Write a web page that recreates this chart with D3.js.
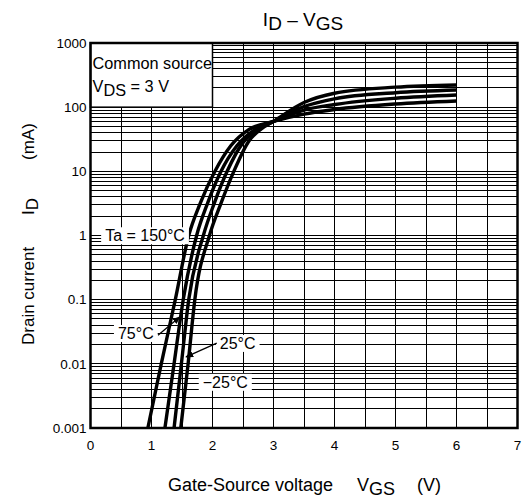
<!DOCTYPE html>
<html>
<head>
<meta charset="utf-8">
<script src="https://cdn.jsdelivr.net/npm/d3@7"></script>
<style>
  body { margin: 0; background: #fff; }
  svg { font-family: "Liberation Sans", Arial, sans-serif; }
</style>
</head>
<body>
<div id="chart"></div>
<script>
// I_D - V_GS curves, one array pair per temperature
const temps = ['150', '75', '25', '-25'];
const vgs150 = [0.94, 1.16, 1.39, 1.61, 1.8, 2.04, 2.3, 2.6, 3.0, 3.5, 4, 5, 6];
const id150  = [0.001, 0.01, 0.1, 1, 3.2, 10, 25, 45, 60, 78, 92, 112, 125];
const vgs75  = [1.22, 1.37, 1.52, 1.74, 1.92, 2.14, 2.4, 2.7, 3.0, 3.5, 4, 5, 6];
const id75   = [0.001, 0.01, 0.1, 1, 3.2, 10, 25, 45, 60, 90, 110, 138, 155];
const vgs25  = [1.37, 1.49, 1.61, 1.85, 2.03, 2.24, 2.5, 2.75, 3.0, 3.5, 4, 5, 6];
const id25   = [0.001, 0.01, 0.1, 1, 3.2, 10, 28, 45, 60, 102, 135, 168, 185];
const vgsM25 = [1.48, 1.6, 1.71, 1.95, 2.14, 2.35, 2.6, 2.8, 3.0, 3.5, 4, 5, 6];
const idM25  = [0.001, 0.01, 0.1, 1, 3.2, 10, 30, 46, 60, 118, 165, 205, 222];

const xTicks = [0, 1, 2, 3, 4, 5, 6, 7];
const yTicks = [0.001, 0.01, 0.1, 1, 10, 100, 1000];
const yTickLabels = ['0.001', '0.01', '0.1', '1', '10', '100', '1000'];

const series = [
  { t: temps[0], v: vgs150, i: id150 },
  { t: temps[1], v: vgs75, i: id75 },
  { t: temps[2], v: vgs25, i: id25 },
  { t: temps[3], v: vgsM25, i: idM25 }
];

const width = 524, height = 501;
const margin = { top: 43, right: 6.5, bottom: 73, left: 90.5 };

const svg = d3.select('#chart').append('svg')
  .attr('width', width)
  .attr('height', height);

const x = d3.scaleLinear().domain([0, 7]).range([margin.left, width - margin.right]);
const y = d3.scaleLog().domain([0.001, 1000]).range([height - margin.bottom, margin.top]);

// grid
const grid = svg.append('g').attr('stroke', '#000').attr('stroke-width', 1).attr('shape-rendering', 'crispEdges');
d3.range(0.5, 7, 0.5).forEach(v => {
  grid.append('line').attr('x1', x(v)).attr('x2', x(v)).attr('y1', y(0.001)).attr('y2', y(1000));
});
yTicks.slice(0, -1).forEach(d => {
  d3.range(1, 10).forEach(k => {
    const val = d * k;
    grid.append('line').attr('x1', x(0)).attr('x2', x(7)).attr('y1', y(val)).attr('y2', y(val));
  });
});

// condition box
svg.append('rect')
  .attr('x', x(0)).attr('y', y(1000))
  .attr('width', x(2) - x(0)).attr('height', y(100) - y(1000))
  .attr('fill', '#fff').attr('stroke', '#000').attr('stroke-width', 1.5);

svg.append('text').attr('x', x(0) + 2).attr('y', 69)
  .attr('font-size', 16.3).text('Common source');
const vds = svg.append('text').attr('x', x(0) + 2).attr('y', 92).attr('font-size', 16.3);
vds.append('tspan').text('V');
vds.append('tspan').attr('dy', 4).text('DS');
vds.append('tspan').attr('dy', -4).text(' = 3 V');

// curves
const line = d3.line()
  .x(d => x(d[0]))
  .y(d => y(d[1]))
  .curve(d3.curveMonotoneX);

series.forEach(s => {
  svg.append('path')
    .datum(s.v.map((v, k) => [v, s.i[k]]))
    .attr('fill', 'none')
    .attr('stroke', '#000')
    .attr('stroke-width', 3.4)
    .attr('d', line);
});

// frame
svg.append('rect')
  .attr('x', x(0)).attr('y', y(1000))
  .attr('width', x(7) - x(0)).attr('height', y(0.001) - y(1000))
  .attr('fill', 'none').attr('stroke', '#000').attr('stroke-width', 2.5);

// tick labels
svg.append('g').selectAll('text')
  .data(xTicks).enter().append('text')
  .attr('x', d => x(d))
  .attr('y', y(0.001) + 22)
  .attr('text-anchor', 'middle')
  .attr('font-size', 13.5)
  .text(d => d);

svg.append('g').selectAll('text')
  .data(yTicks).enter().append('text')
  .attr('x', x(0) - 4)
  .attr('y', d => y(d))
  .attr('dy', '0.35em')
  .attr('text-anchor', 'end')
  .attr('font-size', 13.5)
  .text((d, k) => yTickLabels[k]);

// title
const title = svg.append('text').attr('x', 303).attr('y', 26)
  .attr('text-anchor', 'middle').attr('font-size', 19);
title.append('tspan').text('I');
title.append('tspan').attr('dy', 4).text('D');
title.append('tspan').attr('dy', -4).text(' – V');
title.append('tspan').attr('dy', 4).text('GS');

// axis titles
const xt = svg.append('text').attr('x', 168).attr('y', 491).attr('font-size', 18);
xt.append('tspan').text('Gate-Source voltage');
xt.append('tspan').attr('x', 357).text('V');
xt.append('tspan').attr('dy', 4).text('GS');
xt.append('tspan').attr('x', 417).attr('dy', -4).text('(V)');

const yt = svg.append('text')
  .attr('transform', 'translate(34,345) rotate(-90)')
  .attr('font-size', 17);
yt.append('tspan').text('Drain current');
yt.append('tspan').attr('x', 130).text('I');
yt.append('tspan').attr('dy', 4).text('D');
yt.append('tspan').attr('x', 185).attr('dy', -4).text('(mA)');

// temperature labels
svg.append('defs').append('marker')
  .attr('id', 'arrow')
  .attr('viewBox', '0 0 10 10')
  .attr('refX', 9).attr('refY', 5)
  .attr('markerWidth', 8).attr('markerHeight', 8)
  .attr('markerUnits', 'userSpaceOnUse')
  .attr('orient', 'auto')
  .append('path').attr('d', 'M0,1 L10,5 L0,9 Z').attr('fill', '#000');

const labels = [
  { text: 'Ta = 150°C', v: 0.24, i: 1 },
  { text: '75°C', v: 0.45, i: 0.030 },
  { text: '25°C', v: 2.12, i: 0.021 },
  { text: '−25°C', v: 1.84, i: 0.0052 }
];
labels.forEach(l => {
  const g = svg.append('g');
  const bg = g.append('rect').attr('fill', '#fff');
  const t = g.append('text')
    .attr('x', x(l.v)).attr('y', y(l.i)).attr('dy', '0.36em')
    .attr('font-size', 16).text(l.text);
  const b = t.node().getBBox();
  bg.attr('x', b.x - 4).attr('y', b.y)
    .attr('width', b.width + 8).attr('height', b.height);
});

const leaders = [
  { v1: 1.107, i1: 0.028, v2: 1.467, i2: 0.054 },
  { v1: 2.07, i1: 0.021, v2: 1.566, i2: 0.0128 }
];
leaders.forEach(l => {
  svg.append('line')
    .attr('x1', x(l.v1)).attr('y1', y(l.i1))
    .attr('x2', x(l.v2)).attr('y2', y(l.i2))
    .attr('stroke', '#000').attr('stroke-width', 1.3)
    .attr('marker-end', 'url(#arrow)');
});
</script>
</body>
</html>
